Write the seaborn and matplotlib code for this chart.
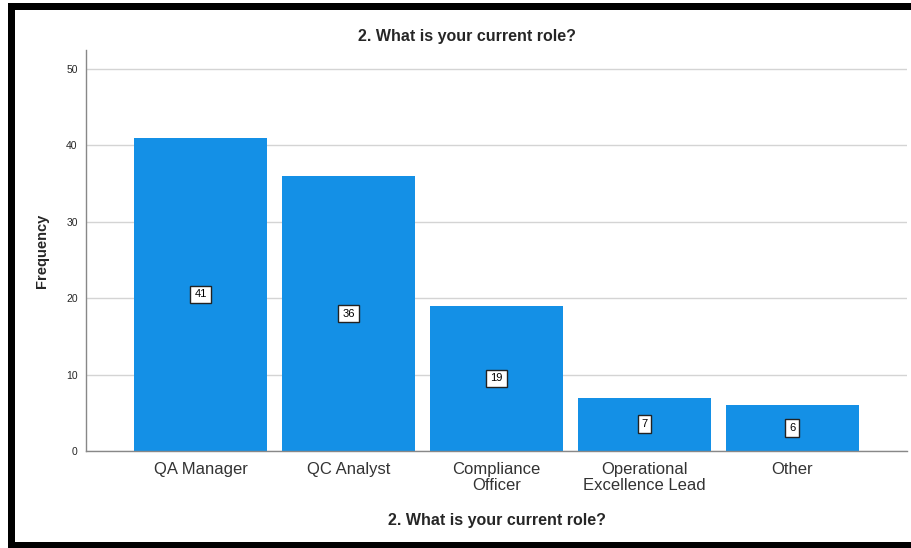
import matplotlib
matplotlib.use("Agg")
import matplotlib.pyplot as plt
import seaborn as sns
import pandas as pd
from matplotlib.patches import Rectangle

categories = ["QA Manager", "QC Analyst", "Compliance\nOfficer", "Operational\nExcellence Lead", "Other"]
frequencies = [41, 36, 19, 7, 6]
yticks = [0, 10, 20, 30, 40, 50]
title = "2. What is your current role?"

sns.set_theme(style="white")
plt.rcParams['font.family'] = ['Liberation Sans', 'DejaVu Sans']

df = pd.DataFrame({"role": categories, "freq": frequencies})

fig = plt.figure(figsize=(9.12, 5.48), dpi=100)
ax = fig.add_axes([86/912, 1-451/548, (907-86)/912, (451-50)/548])

sns.barplot(data=df, x="role", y="freq", hue="role", palette=["#1490E6"]*len(categories),
            width=0.9, legend=False, ax=ax, saturation=1, linewidth=0)

ax.set_xlim(-0.774, 4.774)
ax.set_ylim(0, 52.5)
ax.set_yticks(yticks)
ax.set_yticklabels([str(t) for t in yticks], fontsize=7.5)
ax.yaxis.grid(True, color="#d4d4d4", linewidth=1)
ax.set_axisbelow(True)
ax.tick_params(axis="both", length=0, pad=6)
ax.tick_params(axis="x", labelsize=12, labelcolor="#333333", pad=8)
for lbl in ax.get_xticklabels():
    lbl.set_linespacing(1.1)
for sp in ["top", "right"]:
    ax.spines[sp].set_visible(False)
for sp in ["left", "bottom"]:
    ax.spines[sp].set_color("#888888")
    ax.spines[sp].set_linewidth(1)

for p in ax.patches:
    h = p.get_height()
    ax.text(p.get_x() + p.get_width()/2, h/2, f"{int(round(h))}", ha="center", va="center",
            fontsize=8, color="black",
            bbox=dict(boxstyle="square,pad=0.35", fc="white", ec="#222222", lw=1))

ax.set_xlabel(title, fontsize=11.5, fontweight="bold", labelpad=14)
ax.set_ylabel("Frequency", fontsize=10.5, fontweight="bold", labelpad=12)
fig.text(467/912, 1-37/548, title, ha="center", va="center", fontsize=11.5, fontweight="bold")

# black frame
for (x0, y0, x1, y1) in [(8, 3, 15, 548), (8, 3, 912, 10), (8, 542, 912, 548)]:
    fig.patches.append(Rectangle((x0/912, 1-y1/548), (x1-x0)/912, (y1-y0)/548,
                                 transform=fig.transFigure, facecolor="black",
                                 edgecolor="none", zorder=10))

fig.savefig("out.png", dpi=100)
